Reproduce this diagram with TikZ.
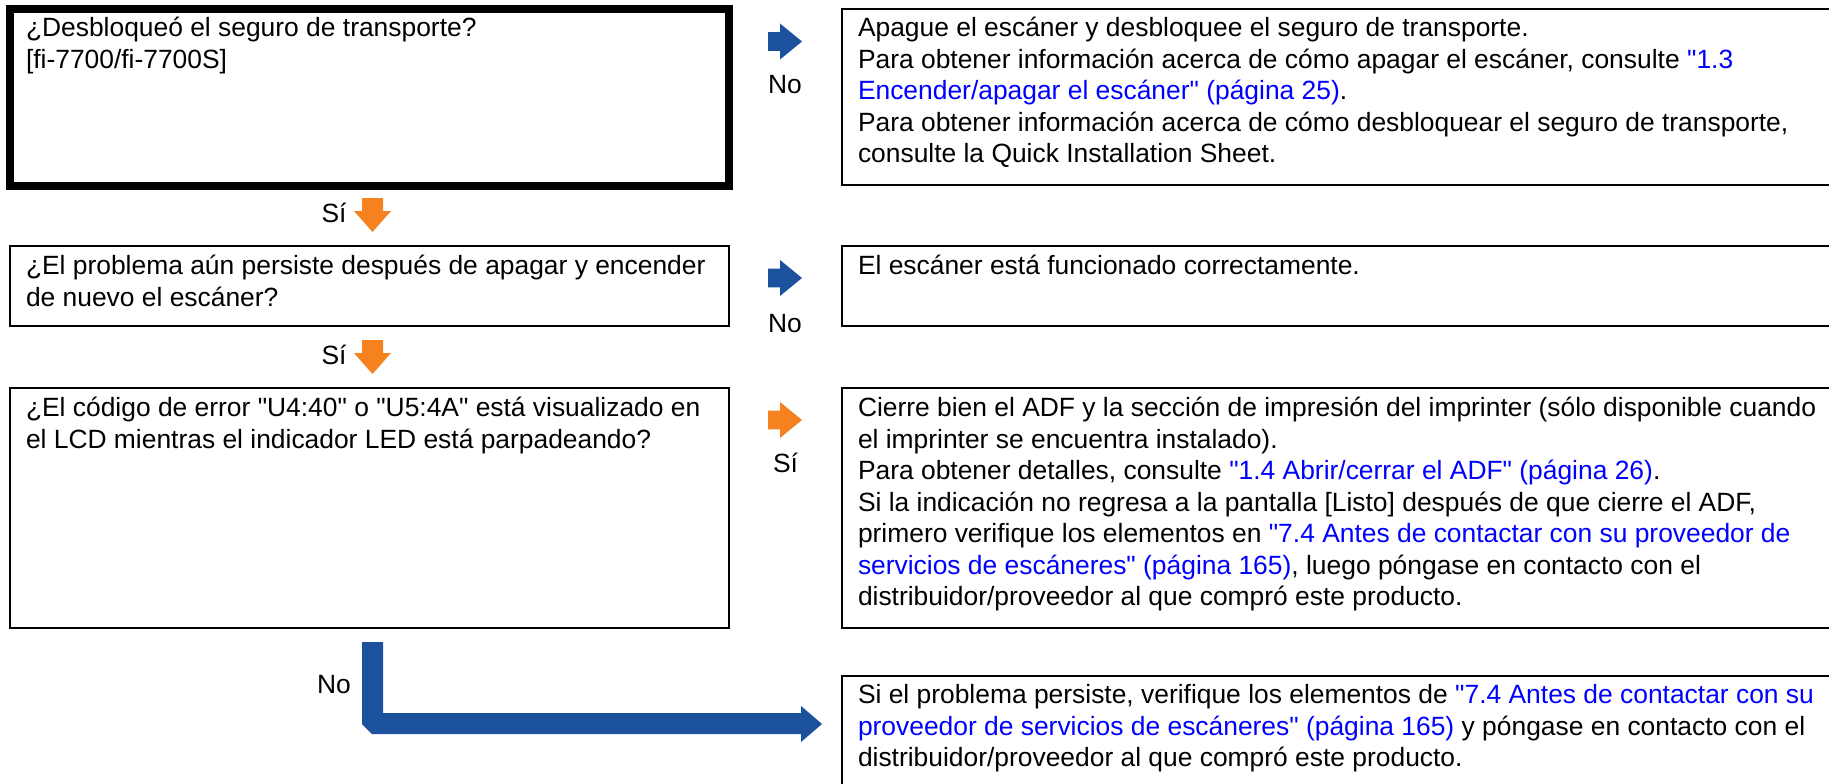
\documentclass[tikz,border=0pt]{standalone}
\usepackage{fontspec}
\setmainfont{Liberation Sans}[Ligatures=TeXOff]
\definecolor{arrowblue}{RGB}{27,81,157}
\definecolor{arroworange}{RGB}{246,130,31}
\definecolor{linkblue}{RGB}{0,0,255}
\newcommand{\lk}[1]{\textcolor{linkblue}{#1}}
\newcommand{\boxtext}[1]{\parbox[t]{1100pt}{\fontsize{26.4}{31.5}\selectfont\raggedright #1}}
\tikzset{
  qbox/.style={draw=black, line width=2pt, rectangle, inner sep=0pt, outer sep=0pt, anchor=north west},
  thickbox/.style={qbox, line width=8pt},
  boxlabel/.style={anchor=base west, inner sep=0pt, outer sep=0pt},
  steplabel/.style={anchor=base west, inner sep=0pt, outer sep=0pt, font=\fontsize{26.4}{31.5}\selectfont},
  fillblue/.style={fill=arrowblue, draw=none},
  fillorange/.style={fill=arroworange, draw=none},
}
% right-pointing block arrow: style, left x, centre y
\newcommand{\rarrowshape}[3]{%
  \fill[#1] (#2,#3-9.3) -- (#2+12,#3-9.3) -- (#2+12,#3-18) -- (#2+34,#3) -- (#2+12,#3+18) -- (#2+12,#3+9.3) -- (#2,#3+9.3) -- cycle;}
% down-pointing block arrow: centre x, top y
\newcommand{\darrowshape}[2]{%
  \fill[fillorange] (#1-10.5,#2) -- (#1+10.5,#2) -- (#1+10.5,#2+13) -- (#1+18.5,#2+13) -- (#1,#2+34) -- (#1-18.5,#2+13) -- (#1-10.5,#2+13) -- cycle;}
\begin{document}
\begin{tikzpicture}[x=1pt,y=-1pt]
\useasboundingbox (0,0) rectangle (1829,784);
\clip (0,0) rectangle (1829,784);
% question boxes
\node[thickbox, minimum width=719pt, minimum height=177pt] (q1) at (10,9) {};
\node[qbox, minimum width=719pt, minimum height=80pt] (q2) at (10,246) {};
\node[qbox, minimum width=719pt, minimum height=240pt] (q3) at (10,388) {};
% answer boxes
\node[qbox, minimum width=1010pt, minimum height=176pt] (a1) at (842,9) {};
\node[qbox, minimum width=1010pt, minimum height=80pt] (a2) at (842,246) {};
\node[qbox, minimum width=1010pt, minimum height=240pt] (a3) at (842,388) {};
\node[qbox, minimum width=1010pt, minimum height=130pt] (a4) at (842,676) {};
% texts
\node[boxlabel] (tq1) at ([xshift=16pt,yshift=-28pt]q1.north west) {\boxtext{¿Desbloqueó el seguro de transporte?\\\relax
[fi-7700/fi-7700S]}};
\node[boxlabel] (tq2) at ([xshift=16pt,yshift=-28.5pt]q2.north west) {\boxtext{¿El problema aún persiste después de apagar y encender\\
de nuevo el escáner?}};
\node[boxlabel] (tq3) at ([xshift=16pt,yshift=-28.5pt]q3.north west) {\boxtext{¿El código de error "U4:40" o "U5:4A" está visualizado en\\
el LCD mientras el indicador LED está parpadeando?}};
\node[boxlabel] (ta1) at ([xshift=16pt,yshift=-28pt]a1.north west) {\boxtext{Apague el escáner y desbloquee el seguro de transporte.\\
Para obtener información acerca de cómo apagar el escáner, consulte \lk{"1.3}\\
\lk{Encender/apagar el escáner" (página 25)}.\\
Para obtener información acerca de cómo desbloquear el seguro de transporte,\\
consulte la Quick Installation Sheet.}};
\node[boxlabel] (ta2) at ([xshift=16pt,yshift=-28.5pt]a2.north west) {\boxtext{El escáner está funcionado correctamente.}};
\node[boxlabel] (ta3) at ([xshift=16pt,yshift=-28.5pt]a3.north west) {\boxtext{Cierre bien el ADF y la sección de impresión del imprinter (sólo disponible cuando\\
el imprinter se encuentra instalado).\\
Para obtener detalles, consulte \lk{"1.4 Abrir/cerrar el ADF" (página 26)}.\\
Si la indicación no regresa a la pantalla [Listo] después de que cierre el ADF,\\
primero verifique los elementos en \lk{"7.4 Antes de contactar con su proveedor de}\\
\lk{servicios de escáneres" (página 165)}, luego póngase en contacto con el\\
distribuidor/proveedor al que compró este producto.}};
\node[boxlabel] (ta4) at ([xshift=16pt,yshift=-27.5pt]a4.north west) {\boxtext{Si el problema persiste, verifique los elementos de \lk{"7.4 Antes de contactar con su}\\
\lk{proveedor de servicios de escáneres" (página 165)} y póngase en contacto con el\\
distribuidor/proveedor al que compró este producto.}};
% arrow labels
\node[steplabel] (no1) at (768,93) {No};
\node[steplabel] (no2) at (768,332) {No};
\node[steplabel] (si3) at (773,472) {Sí};
\node[steplabel] (si1) at (321.5,222) {Sí};
\node[steplabel] (si2) at (321.5,364) {Sí};
\node[steplabel] (no3) at (317,693) {No};
% block arrows
\rarrowshape{fillblue}{768}{41.5}
\rarrowshape{fillblue}{768}{278}
\rarrowshape{fillorange}{768}{420}
\darrowshape{372.5}{198}
\darrowshape{372.5}{340}
\fill[fillblue] (362,642) -- (383,642) -- (383,713) -- (801,713) -- (801,706) -- (822,724) -- (801,742) -- (801,734) -- (372,734) -- (362,724) -- cycle;
\end{tikzpicture}
\end{document}
